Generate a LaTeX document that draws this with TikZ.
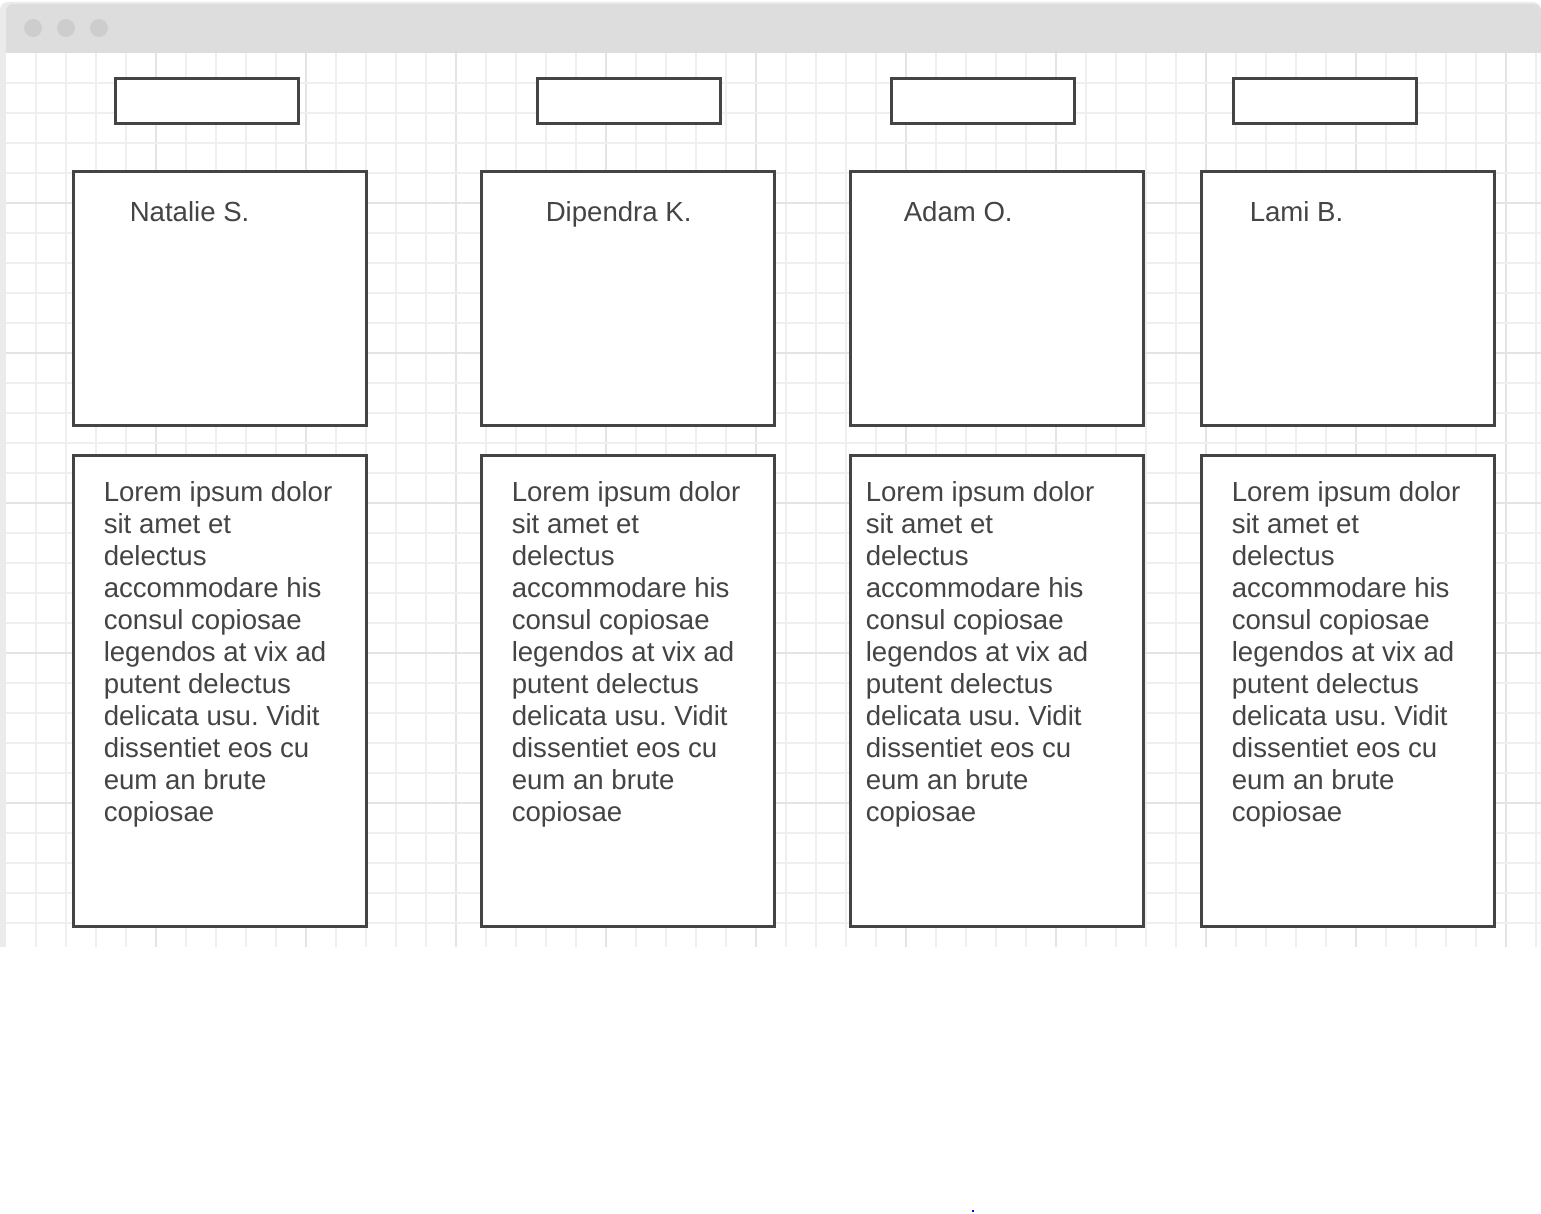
\documentclass[tikz,border=0pt]{standalone}
\usepackage{fontspec}
\setmainfont{Liberation Sans}
\frenchspacing
\definecolor{ink}{HTML}{444444}
\definecolor{frameg}{HTML}{EBEBEB}
\definecolor{barg}{HTML}{DDDDDD}
\definecolor{dotg}{HTML}{CDCDCD}
\definecolor{gridminor}{HTML}{EFEFEF}
\definecolor{gridmajor}{HTML}{E4E4E4}
\newcommand{\loremtext}{Lorem ipsum dolor\\sit amet et\\delectus\\accommodare his\\consul copiosae\\legendos at vix ad\\putent delectus\\delicata usu. Vidit\\dissentiet eos cu\\eum an brute\\copiosae}
\begin{document}
\begin{tikzpicture}[x=0.75pt,y=-0.75pt,
  boxshape/.style={draw=ink,line width=1.6pt,fill=white,rectangle,inner sep=0pt,outer sep=0pt},
  headbox/.style={boxshape,minimum width=183*0.75pt,minimum height=45*0.75pt},
  namebox/.style={boxshape,minimum width=293*0.75pt,minimum height=254*0.75pt},
  textbox/.style={boxshape,minimum width=293*0.75pt,minimum height=471*0.75pt},
  lbl/.style={text=ink,inner sep=0pt,anchor=base west,font=\fontsize{20.7}{24}\selectfont\frenchspacing}]
\useasboundingbox[fill=white] (0,0) rectangle (1541,1213);
% window frame
\fill[frameg,rounded corners=6] (0,2) rectangle (1541,960);
\fill[white] (0,947) rectangle (1541,962);
\fill[barg,rounded corners=5] (6,4) rectangle (1541,60);
\fill[white] (6,53) rectangle (1541,947);
% grid
\foreach \gx in {36,66,...,1536}{
  \pgfmathtruncatemacro{\m}{mod(\gx-6,150)}
  \ifnum\m=0
    \draw[gridmajor,line width=1.1pt] (\gx,53) -- (\gx,947);
  \else
    \draw[gridminor,line width=1.1pt] (\gx,53) -- (\gx,947);
  \fi
}
\foreach \gy in {83,113,...,923}{
  \pgfmathtruncatemacro{\m}{mod(\gy-53,150)}
  \ifnum\m=0
    \draw[gridmajor,line width=1.1pt] (6,\gy) -- (1541,\gy);
  \else
    \draw[gridminor,line width=1.1pt] (6,\gy) -- (1541,\gy);
  \fi
}
% title bar dots
\foreach \dx/\dn in {33/d1,66/d2,99/d3}{
  \node[circle,fill=dotg,inner sep=0pt,minimum size=18*0.75pt] (\dn) at (\dx,28) {};
}
% header boxes
\foreach \cx/\n in {207/1,629/2,983/3,1325/4}{
  \node[headbox] (h\n) at (\cx,101) {};
}
% name boxes and text boxes
\foreach \cx/\n in {220/1,628/2,997/3,1348/4}{
  \node[namebox] (n\n) at (\cx,298.5) {};
  \node[textbox] (b\n) at (\cx,691) {};
}
% names
\node[lbl] (name1) at (129.5,221) {Natalie S.};
\node[lbl] (name2) at (545.5,221) {Dipendra K.};
\node[lbl] (name3) at (903.5,221) {Adam O.};
\node[lbl] (name4) at (1249.5,221) {Lami B.};
% body texts
\foreach \tx/\n in {103.5/1,511.5/2,865.5/3,1231.5/4}{
  \node[lbl] (t\n) at (\tx,501) {\parbox[t]{300pt}{\raggedright\loremtext}};
}
% stray dot
\fill[blue] (972,1210) rectangle (974,1212);
\end{tikzpicture}
\end{document}
